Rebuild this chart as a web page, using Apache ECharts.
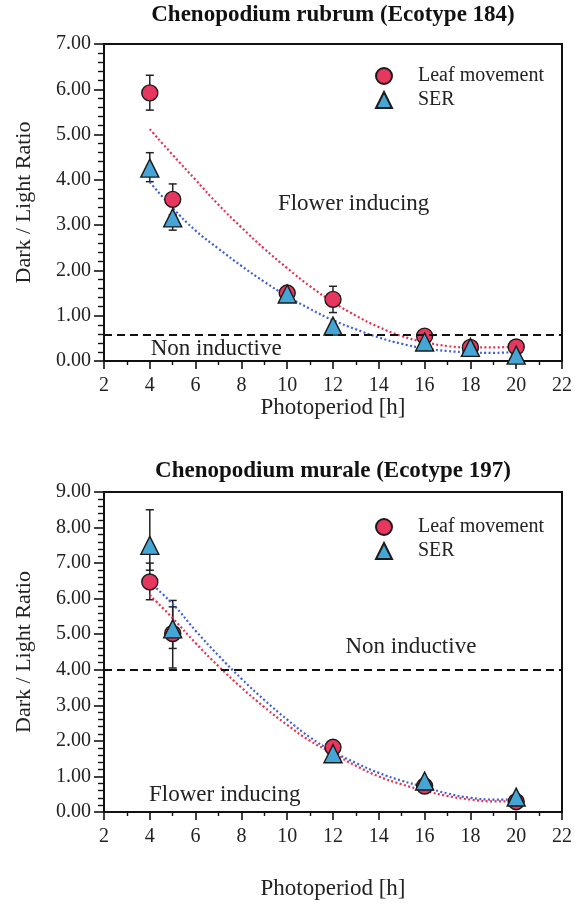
<!DOCTYPE html>
<html><head><meta charset="utf-8">
<script src="https://cdn.jsdelivr.net/npm/echarts@6/dist/echarts.min.js"></script>
<style>html,body{margin:0;padding:0;background:#fff}#c{width:575px;height:905px}</style>
</head><body><div id="c"></div><script>
// ---- Top chart: Chenopodium rubrum (Ecotype 184)
const topTitle = 'Chenopodium rubrum (Ecotype 184)';
const topX = [4, 5, 10, 12, 16, 18, 20];
const topLeaf = [5.92, 3.57, 1.50, 1.36, 0.55, 0.30, 0.31];
const topLeafLo = [5.54, 3.23, null, 1.07, null, null, null];
const topLeafHi = [6.31, 3.91, null, 1.65, null, null, null];
const topSer = [4.26, 3.16, 1.48, 0.77, 0.42, 0.30, 0.13];
const topSerLo = [3.96, 2.89, null, null, null, null, null];
const topSerHi = [4.60, 3.43, null, null, null, null, null];
const topFitX = [4, 5, 6, 7, 8, 9, 10, 11, 12, 13, 14, 15, 16, 17, 18, 19, 20];
const topFitLeaf = [5.12, 4.55, 4.00, 3.45, 2.95, 2.48, 2.05, 1.65, 1.30, 1.00, 0.75, 0.55, 0.42, 0.33, 0.30, 0.30, 0.32];
const topFitSer = [3.95, 3.38, 2.88, 2.48, 2.10, 1.75, 1.43, 1.15, 0.90, 0.70, 0.52, 0.38, 0.28, 0.22, 0.19, 0.18, 0.20];
const topThreshold = 0.58;
const topNotes = [[12.9, 3.47, 'Flower inducing'], [6.9, 0.26, 'Non inductive']];

// ---- Bottom chart: Chenopodium murale (Ecotype 197)
const botTitle = 'Chenopodium murale (Ecotype 197)';
const botX = [4, 5, 12, 16, 20];
const botLeaf = [6.47, 5.02, 1.82, 0.73, 0.29];
const botLeafLo = [5.97, 4.05, null, null, null];
const botLeafHi = [7.00, 5.95, null, null, null];
const botSer = [7.50, 5.15, 1.64, 0.87, 0.42];
const botSerLo = [6.80, 4.60, null, null, null];
const botSerHi = [8.50, 5.77, null, null, null];
const botFitX = [4, 5, 6, 7, 8, 9, 10, 11, 12, 13, 14, 15, 16, 17, 18, 19, 20];
const botFitLeaf = [6.10, 5.45, 4.75, 4.10, 3.50, 2.95, 2.45, 2.00, 1.65, 1.30, 1.00, 0.78, 0.60, 0.45, 0.35, 0.30, 0.30];
const botFitSer = [6.45, 5.85, 5.10, 4.40, 3.75, 3.15, 2.60, 2.10, 1.70, 1.38, 1.10, 0.88, 0.70, 0.52, 0.40, 0.35, 0.35];
const botThreshold = 4.0;
const botNotes = [[15.4, 4.65, 'Non inductive'], [7.27, 0.48, 'Flower inducing']];

const xName = 'Photoperiod [h]';
const yName = 'Dark / Light Ratio';
const legendNames = ['Leaf movement', 'SER'];

const SERIF = '"Liberation Serif", "DejaVu Serif", serif';
const RED = '#E8375F', BLUE = '#45A6D6', RED_LINE = '#E5304F', BLUE_LINE = '#3F5FD8';

const chart = echarts.init(document.getElementById('c'), null, {renderer: 'canvas'});

function xAxisCfg(gi, gap) {
  return {
    gridIndex: gi, type: 'value', min: 2, max: 22, interval: 2,
    axisLine: {show: true, lineStyle: {color: '#111', width: 2}},
    axisTick: {show: true, length: 8, lineStyle: {color: '#111', width: 1.6}},
    minorTick: {show: true, splitNumber: 2, length: 4, lineStyle: {color: '#111', width: 1.4}},
    splitLine: {show: false},
    axisLabel: {fontFamily: SERIF, fontSize: 20, color: '#222', margin: 15},
    name: xName, nameLocation: 'middle', nameGap: gap,
    nameTextStyle: {fontFamily: SERIF, fontSize: 23, color: '#222'}
  };
}
function yAxisCfg(gi, max) {
  return {
    gridIndex: gi, type: 'value', min: 0, max: max, interval: 1,
    axisLine: {show: true, lineStyle: {color: '#111', width: 2}},
    axisTick: {show: true, length: 10, lineStyle: {color: '#111', width: 1.6}},
    minorTick: {show: true, splitNumber: 5, length: 6, lineStyle: {color: '#111', width: 1.4}},
    splitLine: {show: false},
    axisLabel: {fontFamily: SERIF, fontSize: 20, color: '#222', margin: 13, formatter: v => v.toFixed(2)},
    name: yName, nameLocation: 'middle', nameGap: 69,
    nameTextStyle: {fontFamily: SERIF, fontSize: 22, color: '#222'}
  };
}
function errData(xs, lo, hi) {
  const out = [];
  xs.forEach((x, i) => { if (lo[i] != null) out.push([x, lo[i], hi[i]]); });
  return out;
}
function errSeries(gi, xs, lo, hi) {
  return {
    type: 'custom', xAxisIndex: gi, yAxisIndex: gi, z: 2, silent: true,
    data: errData(xs, lo, hi),
    renderItem: function (params, api) {
      const x = api.value(0);
      const a = api.coord([x, api.value(2)]);
      const b = api.coord([x, api.value(1)]);
      const st = {stroke: '#222', lineWidth: 1.5};
      return {type: 'group', children: [
        {type: 'line', shape: {x1: a[0], y1: a[1], x2: b[0], y2: b[1]}, style: st},
        {type: 'line', shape: {x1: a[0] - 4, y1: a[1], x2: a[0] + 4, y2: a[1]}, style: st},
        {type: 'line', shape: {x1: b[0] - 4, y1: b[1], x2: b[0] + 4, y2: b[1]}, style: st}
      ]};
    }
  };
}
function fitSeries(gi, xs, ys, color, threshold) {
  const s = {
    type: 'line', xAxisIndex: gi, yAxisIndex: gi, z: 3, silent: true,
    data: xs.map((x, i) => [x, ys[i]]), smooth: true, showSymbol: false, symbol: 'none',
    lineStyle: {color: color, width: 2.2, type: [2, 2.4]}
  };
  if (threshold != null) {
    s.markLine = {
      symbol: 'none', silent: true, label: {show: false},
      lineStyle: {color: '#111', width: 2, type: [8, 5]},
      data: [{yAxis: threshold}]
    };
  }
  return s;
}
function scatterSeries(gi, name, xs, ys, symbol, color, size) {
  return {
    type: 'scatter', name: name, xAxisIndex: gi, yAxisIndex: gi, z: 4,
    symbol: symbol, symbolSize: size,
    itemStyle: {color: color, borderColor: '#1a1a1a', borderWidth: 1.4, opacity: 1},
    data: xs.map((x, i) => [x, ys[i]])
  };
}
function noteSeries(gi, notes) {
  return {
    type: 'custom', xAxisIndex: gi, yAxisIndex: gi, z: 5, silent: true,
    data: notes.map(n => [n[0], n[1]]),
    renderItem: function (params, api) {
      const p = api.coord([api.value(0), api.value(1)]);
      return {type: 'text', x: p[0], y: p[1], style: {
        text: notes[params.dataIndex][2], fontFamily: SERIF, fontSize: 23, fill: '#222',
        align: 'center', verticalAlign: 'middle'}};
    }
  };
}
function legendCfg(top) {
  return {
    data: legendNames, orient: 'vertical', left: 375, top: top, padding: 0,
    itemWidth: 16, itemHeight: 16, itemGap: 4,
    textStyle: {fontFamily: SERIF, fontSize: 20, lineHeight: 20, color: '#222', padding: [0, 0, 0, 21]},
    selectedMode: false
  };
}

const option = {
  animation: false,
  backgroundColor: '#fff',
  title: [
    {text: topTitle, left: 333, top: 4, padding: 0, textAlign: 'center',
     textStyle: {fontFamily: SERIF, fontSize: 23, fontWeight: 'bold', color: '#111'}},
    {text: botTitle, left: 333, top: 460, padding: 0, textAlign: 'center',
     textStyle: {fontFamily: SERIF, fontSize: 23, fontWeight: 'bold', color: '#111'}}
  ],
  legend: [legendCfg(66), legendCfg(517)],
  grid: [
    {left: 104, right: 12, top: 44, height: 317, show: true, borderColor: '#111', borderWidth: 2, backgroundColor: 'transparent'},
    {left: 104, right: 12, top: 492, height: 320, show: true, borderColor: '#111', borderWidth: 2, backgroundColor: 'transparent'}
  ],
  xAxis: [xAxisCfg(0, 35), xAxisCfg(1, 65)],
  yAxis: [yAxisCfg(0, 7), yAxisCfg(1, 9)],
  series: [
    errSeries(0, topX, topLeafLo, topLeafHi),
    errSeries(0, topX, topSerLo, topSerHi),
    fitSeries(0, topFitX, topFitLeaf, RED_LINE, topThreshold),
    fitSeries(0, topFitX, topFitSer, BLUE_LINE, null),
    scatterSeries(0, legendNames[0], topX, topLeaf, 'circle', RED, 16),
    scatterSeries(0, legendNames[1], topX, topSer, 'triangle', BLUE, 18),
    noteSeries(0, topNotes),
    errSeries(1, botX, botLeafLo, botLeafHi),
    errSeries(1, botX, botSerLo, botSerHi),
    fitSeries(1, botFitX, botFitLeaf, RED_LINE, botThreshold),
    fitSeries(1, botFitX, botFitSer, BLUE_LINE, null),
    scatterSeries(1, legendNames[0], botX, botLeaf, 'circle', RED, 16),
    scatterSeries(1, legendNames[1], botX, botSer, 'triangle', BLUE, 18),
    noteSeries(1, botNotes)
  ]
};
chart.setOption(option);
</script></body></html>
